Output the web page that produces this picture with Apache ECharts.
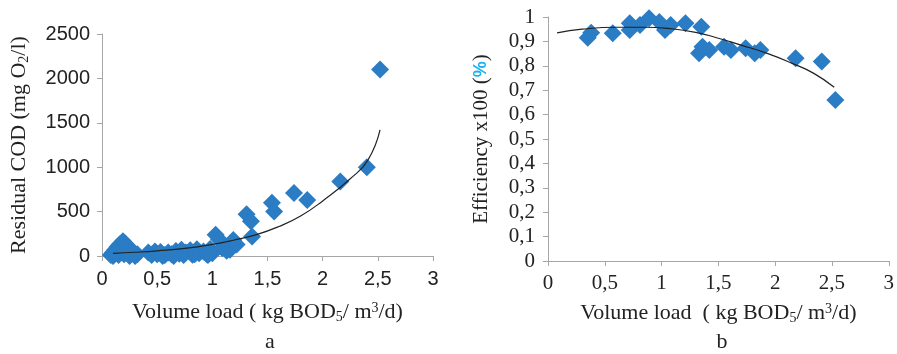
<!DOCTYPE html>
<html>
<head>
<meta charset="utf-8">
<script src="https://cdn.jsdelivr.net/npm/echarts@6/dist/echarts.min.js"></script>
<style>html,body{margin:0;padding:0;background:#fff}#c{width:897px;height:354px}</style>
</head>
<body>
<div id="c"></div>
<script>
// ---- Panel a: Residual COD vs volume load ----
const codLoad = [0.08,0.10,0.12,0.14,0.16,0.19,0.21,0.23,0.25,0.27,0.29,0.32,0.10,0.15,0.20,0.25,0.30,0.13,0.22,
  0.42,0.45,0.48,0.50,0.53,0.57,0.60,0.63,0.67,0.70,0.72,0.76,0.80,0.82,0.86,0.88,0.92,0.95,0.98,1.00,
  0.55,0.65,0.74,0.84,0.96,
  1.03,1.06,1.09,1.13,1.16,1.19,1.22,1.31,1.35,1.36,1.54,1.56,1.74,1.86,2.16,2.40,2.52];
const codValue = [10,40,70,100,130,165,140,110,80,60,40,20,0,10,20,0,0,40,60,
  40,10,50,20,45,10,40,20,55,25,70,40,65,15,75,30,50,20,80,30,
  0,0,10,20,10,
  240,190,90,60,70,180,130,470,390,220,600,500,710,630,840,1000,2100];
const codTrendLoad = [0.10,0.30,0.50,0.75,1.00,1.20,1.40,1.60,1.80,2.00,2.25,2.41,2.52];
const codTrendValue = [30,42,58,85,130,180,240,330,450,620,870,1080,1420];

// ---- Panel b: Efficiency vs volume load ----
const effLoad = [0.38,0.35,0.57,0.72,0.72,0.81,0.89,0.98,1.03,1.08,1.21,1.35,1.33,1.36,1.42,1.55,1.61,1.74,1.82,1.87,2.18,2.41,2.53];
const effValue = [0.935,0.915,0.933,0.974,0.947,0.967,0.995,0.98,0.947,0.967,0.974,0.96,0.851,0.878,0.865,0.878,0.865,0.872,0.851,0.865,0.831,0.818,0.66];
const effTrendLoad = [0.08,0.30,0.60,0.85,1.06,1.30,1.50,1.70,1.93,2.15,2.34,2.52];
const effTrendValue = [0.935,0.950,0.958,0.958,0.953,0.937,0.913,0.885,0.851,0.810,0.769,0.712];

// tick labels
const xTicksA = ['0','0,5','1','1,5','2','2,5','3'];

const blue = '#2a7cc4';
const axisGray = '#a6a6a6';
const serif = '"Liberation Serif", "DejaVu Serif", serif';
const sans = '"Liberation Sans", Arial, sans-serif';

const pairs = (xs, ys) => xs.map((x, i) => [x, ys[i]]);
const fmtComma = v => {
  const r = Math.round(v * 10) / 10;
  return String(r).replace('.', ',');
};

const chart = echarts.init(document.getElementById('c'), null, {renderer: 'canvas'});
const subRich = {
  sub: {fontFamily: serif, fontSize: 14, color: '#222', padding: [9, 0, 0, 0]},
  sup: {fontFamily: serif, fontSize: 14, color: '#222', padding: [0, 0, 8, 0]},
  pct: {fontFamily: sans, fontSize: 18, fontWeight: 'bold', color: '#1ab2f0'}
};
const nameStyle = {fontFamily: serif, fontSize: 22, color: '#222', rich: subRich};

chart.setOption({
  animation: false,
  grid: [
    {left: 102, top: 34, width: 331, height: 222},
    {left: 548, top: 17, width: 345, height: 244}
  ],
  xAxis: [
    {gridIndex: 0, type: 'value', min: 0, max: 3, interval: 0.5,
     name: 'Volume load ( kg BOD{sub|5}/ m{sup|3}/d)', nameLocation: 'middle', nameGap: 45, nameTextStyle: nameStyle,
     axisLine: {lineStyle: {color: axisGray}}, axisTick: {show: true, length: 5, lineStyle: {color: axisGray}},
     splitLine: {show: false},
     axisLabel: {margin: 13, fontFamily: sans, fontSize: 20, color: '#222', formatter: v => xTicksA[Math.round(v * 2)]}},
    {gridIndex: 1, type: 'value', min: 0, max: 3, interval: 0.5,
     name: 'Volume load  ( kg BOD{sub|5}/ m{sup|3}/d)', nameLocation: 'middle', nameGap: 41, nameTextStyle: nameStyle,
     axisLine: {lineStyle: {color: axisGray}}, axisTick: {show: true, length: 5, lineStyle: {color: axisGray}},
     splitLine: {show: false},
     axisLabel: {margin: 12, fontFamily: serif, fontSize: 21, color: '#222', formatter: v => xTicksA[Math.round(v * 2)]}}
  ],
  yAxis: [
    {gridIndex: 0, type: 'value', min: 0, max: 2500, interval: 500,
     name: 'Residual COD (mg O{sub|2}/l)', nameLocation: 'middle', nameGap: 71, nameTextStyle: nameStyle,
     axisLine: {show: true, lineStyle: {color: axisGray}}, axisTick: {show: true, length: 5, lineStyle: {color: axisGray}},
     splitLine: {show: false},
     axisLabel: {margin: 12, fontFamily: sans, fontSize: 20, color: '#222', formatter: v => String(v)}},
    {gridIndex: 1, type: 'value', min: 0, max: 1, interval: 0.1,
     name: 'Efficiency x100 ({pct|%})', nameLocation: 'middle', nameGap: 56, nameTextStyle: {fontFamily: serif, fontSize: 21, color: '#222', rich: subRich},
     axisLine: {show: true, lineStyle: {color: axisGray}}, axisTick: {show: true, length: 5, lineStyle: {color: axisGray}},
     splitLine: {show: false},
     axisLabel: {margin: 13, fontFamily: serif, fontSize: 21, color: '#222', formatter: fmtComma}}
  ],
  graphic: [
    {type: 'text', x: 270, y: 342, style: {text: 'a', font: '22px ' + serif, fill: '#222', align: 'center', verticalAlign: 'middle'}},
    {type: 'text', x: 722, y: 342, style: {text: 'b', font: '22px ' + serif, fill: '#222', align: 'center', verticalAlign: 'middle'}}
  ],
  series: [
    {type: 'scatter', xAxisIndex: 0, yAxisIndex: 0, symbol: 'diamond', symbolSize: 18,
     itemStyle: {color: blue, opacity: 1}, data: pairs(codLoad, codValue), z: 2},
    {type: 'line', xAxisIndex: 0, yAxisIndex: 0, smooth: true, showSymbol: false, symbol: 'none',
     lineStyle: {color: '#222', width: 1.2}, data: pairs(codTrendLoad, codTrendValue), z: 3},
    {type: 'scatter', xAxisIndex: 1, yAxisIndex: 1, symbol: 'diamond', symbolSize: 18,
     itemStyle: {color: blue, opacity: 1}, data: pairs(effLoad, effValue), z: 2},
    {type: 'line', xAxisIndex: 1, yAxisIndex: 1, smooth: true, showSymbol: false, symbol: 'none',
     lineStyle: {color: '#222', width: 1.2}, data: pairs(effTrendLoad, effTrendValue), z: 3}
  ]
});
</script>
</body>
</html>
